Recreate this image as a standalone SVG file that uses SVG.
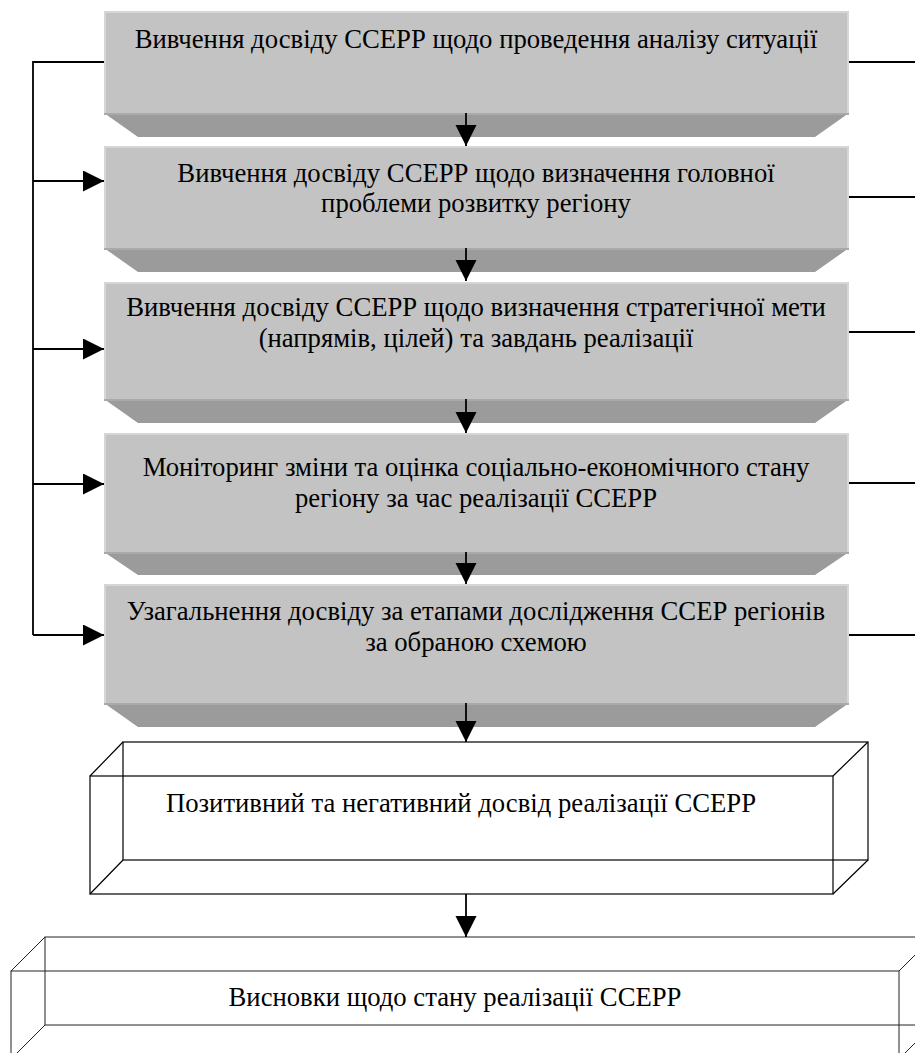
<svg xmlns="http://www.w3.org/2000/svg" width="915" height="1053" viewBox="0 0 915 1053">
<defs>
<style>
.front{fill:#c3c3c3}
.hl{fill:#d6d6d6}
.bevel{fill:#9b9b9b}
.bevtop{fill:#a9a9a9}
.t{font-family:"Liberation Serif","Times New Roman",serif;font-size:26.7px;fill:#000;text-anchor:middle}
.conn{stroke:#000;stroke-width:1.8;fill:none}
.wire{stroke:#000;stroke-width:1.2;fill:none}
.wire2{stroke:#222;stroke-width:1;fill:none}
</style>
<marker id="ah" markerUnits="userSpaceOnUse" markerWidth="22" markerHeight="22" refX="21" refY="10.5" orient="auto">
<path d="M0,0 L21,10.5 L0,21 Z" fill="#000"/>
</marker>
</defs>
<rect width="915" height="1053" fill="#fff"/>

<g id="node1">
<rect class="front" x="104" y="11" width="745" height="102"/>
<rect class="hl" x="104" y="11" width="745" height="2"/>
<rect class="hl" x="104" y="11" width="2" height="102"/>
<rect class="hl" x="847" y="11" width="2" height="102"/>
<polygon class="bevel" points="104,113 849,113 815,137 138,137"/>
<rect class="bevtop" x="104" y="113" width="745" height="2"/>
<text class="t" x="476" y="48">Вивчення досвіду ССЕРР щодо проведення аналізу ситуації</text>
</g>

<g id="node2">
<rect class="front" x="104" y="146" width="745" height="102"/>
<rect class="hl" x="104" y="146" width="745" height="2"/>
<rect class="hl" x="104" y="146" width="2" height="102"/>
<rect class="hl" x="847" y="146" width="2" height="102"/>
<polygon class="bevel" points="104,248 849,248 815,272 138,272"/>
<rect class="bevtop" x="104" y="248" width="745" height="2"/>
<text class="t" x="476" y="182">Вивчення досвіду ССЕРР щодо визначення головної</text>
<text class="t" x="476" y="212">проблеми розвитку регіону</text>
</g>

<g id="node3">
<rect class="front" x="104" y="282" width="745" height="117"/>
<rect class="hl" x="104" y="282" width="745" height="2"/>
<rect class="hl" x="104" y="282" width="2" height="117"/>
<rect class="hl" x="847" y="282" width="2" height="117"/>
<polygon class="bevel" points="104,399 849,399 815,423 138,423"/>
<rect class="bevtop" x="104" y="399" width="745" height="2"/>
<text class="t" x="476" y="316">Вивчення досвіду ССЕРР щодо визначення стратегічної мети</text>
<text class="t" x="476" y="347">(напрямів, цілей) та завдань реалізації</text>
</g>

<g id="node4">
<rect class="front" x="104" y="433" width="745" height="119"/>
<rect class="hl" x="104" y="433" width="745" height="2"/>
<rect class="hl" x="104" y="433" width="2" height="119"/>
<rect class="hl" x="847" y="433" width="2" height="119"/>
<polygon class="bevel" points="104,552 849,552 815,575 138,575"/>
<rect class="bevtop" x="104" y="552" width="745" height="2"/>
<text class="t" x="476" y="476">Моніторинг зміни та оцінка соціально-економічного стану</text>
<text class="t" x="476" y="507">регіону за час реалізації ССЕРР</text>
</g>

<g id="node5">
<rect class="front" x="104" y="584" width="745" height="119"/>
<rect class="hl" x="104" y="584" width="745" height="2"/>
<rect class="hl" x="104" y="584" width="2" height="119"/>
<rect class="hl" x="847" y="584" width="2" height="119"/>
<polygon class="bevel" points="104,703 849,703 815,727 138,727"/>
<rect class="bevtop" x="104" y="703" width="745" height="2"/>
<text class="t" x="476" y="620">Узагальнення досвіду за етапами дослідження ССЕР регіонів</text>
<text class="t" x="476" y="651">за обраною схемою</text>
</g>

<g id="node6">
<rect class="wire" x="123" y="742" width="745" height="118"/>
<rect class="wire" x="90" y="776" width="743" height="118"/>
<path class="wire" d="M90,776 L123,742 M833,776 L868,742 M90,894 L123,860 M833,894 L868,860"/>
<text class="t" x="461" y="812">Позитивний та негативний досвід реалізації ССЕРР</text>
</g>

<g id="node7">
<rect class="wire2" x="45" y="937" width="888" height="88"/>
<rect class="wire2" x="11" y="971" width="888" height="88"/>
<path class="wire2" d="M11,971 L45,937 M899,971 L933,937 M11,1059 L45,1025 M899,1059 L933,1025"/>
<text class="t" x="455" y="1006">Висновки щодо стану реалізації ССЕРР</text>
</g>

<g id="connectors">
<path class="conn" d="M104,62 L33,62 L33,635"/>
<path class="conn" d="M33,181 L104,181" marker-end="url(#ah)"/>
<path class="conn" d="M33,349 L104,349" marker-end="url(#ah)"/>
<path class="conn" d="M33,484 L104,484" marker-end="url(#ah)"/>
<path class="conn" d="M33,635 L104,635" marker-end="url(#ah)"/>
<path class="conn" d="M849,62 L915,62"/>
<path class="conn" d="M849,197 L915,197"/>
<path class="conn" d="M849,332 L915,332"/>
<path class="conn" d="M849,483 L915,483"/>
<path class="conn" d="M849,635 L915,635"/>
<path class="conn" d="M466,113 L466,146" marker-end="url(#ah)"/>
<path class="conn" d="M466,248 L466,281" marker-end="url(#ah)"/>
<path class="conn" d="M466,399 L466,433" marker-end="url(#ah)"/>
<path class="conn" d="M466,552 L466,584" marker-end="url(#ah)"/>
<path class="conn" d="M466,703 L466,742" marker-end="url(#ah)"/>
<path class="conn" d="M466,894 L466,937" marker-end="url(#ah)"/>
</g>
</svg>
